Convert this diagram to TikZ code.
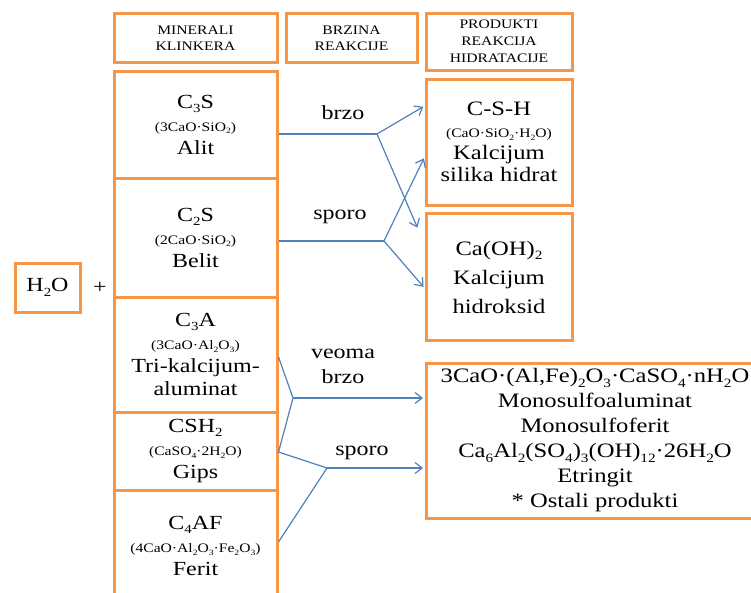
\documentclass[tikz,border=0pt]{standalone}
\usepackage{fontspec}
\usepackage{graphicx}
\setmainfont[FakeStretch=1.2]{Liberation Serif}
\usetikzlibrary{arrows.meta,calc}
\definecolor{boxor}{HTML}{F79646}
\definecolor{arrbl}{HTML}{4F81BD}
\newcommand\sm[1]{{\fontsize{13}{13}\selectfont #1}}
\newcommand\sub[1]{\raisebox{-0.22em}{\scalebox{0.62}{#1}}}
\begin{document}
\begin{tikzpicture}[x=1pt,y=-1pt,
  box/.style={draw=boxor,line width=3pt,inner sep=0pt,align=center,font=\fontsize{20}{23}\selectfont},
  hdr/.style={box,font=\fontsize{13}{16}\selectfont},
  conn/.style={draw=arrbl,line width=1.2pt},
  arr/.style={conn,-{Straight Barb[length=7pt,width=11pt]},shorten >=1.5pt},
  lbl/.style={font=\fontsize{20}{25}\selectfont,align=center,inner sep=0pt}]
\path[use as bounding box] (0,0) rectangle (751,592);
\clip (0,0) rectangle (751,592);
% headers
\node[hdr,minimum width=163pt,minimum height=49pt] (hmin) at (195.5,38) {MINERALI\\KLINKERA};
\node[hdr,minimum width=131pt,minimum height=49pt] (hbrz) at (351.5,38) {BRZINA\\REAKCIJE};
\node[hdr,minimum width=146pt,minimum height=57pt,font=\fontsize{13}{17}\selectfont] (hprod) at (499,41.5) {PRODUKTI\\REAKCIJA\\HIDRATACIJE};
% minerals
\node[box,minimum width=163pt,minimum height=107pt] (c3s) at (195.5,124.5) {C\sub{3}S\\\sm{(3CaO·SiO\sub{2})}\\Alit};
\node[box,minimum width=163pt,minimum height=119pt] (c2s) at (195.5,237.5) {C\sub{2}S\\\sm{(2CaO·SiO\sub{2})}\\Belit};
\node[box,minimum width=163pt,minimum height=115pt] (c3a) at (195.5,354.5) {C\sub{3}A\\\sm{(3CaO·Al\sub{2}O\sub{3})}\\Tri-kalcijum-\\aluminat};
\node[box,minimum width=163pt,minimum height=78pt] (csh2) at (195.5,451) {CSH\sub{2}\\\sm{(CaSO\sub{4}·2H\sub{2}O)}\\Gips};
\node[box,minimum width=163pt,minimum height=112pt] (c4af) at (195.5,546) {C\sub{4}AF\\\sm{(4CaO·Al\sub{2}O\sub{3}·Fe\sub{2}O\sub{3})}\\Ferit};
% water
\node[box,minimum width=65pt,minimum height=49pt] (h2o) at (47.5,287.5) {H\sub{2}O};
\node[lbl] (plus) at (100,288) {+};
% products
\node[box,minimum width=146pt,minimum height=126pt,font=\fontsize{20.5}{22}\selectfont] (csh) at (499,142) {C-S-H\\\sm{(CaO·SiO\sub{2}·H\sub{2}O)}\\Kalcijum\\silika hidrat};
\node[box,minimum width=146pt,minimum height=127pt,font=\fontsize{20.5}{29}\selectfont] (caoh) at (499,277) {Ca(OH)\sub{2}\\Kalcijum\\hidroksid};
\node[box,minimum width=338pt,minimum height=155pt,font=\fontsize{20.5}{25}\selectfont] (big) at (595,440.5) {3CaO·(Al,Fe)\sub{2}O\sub{3}·CaSO\sub{4}·nH\sub{2}O\\Monosulfoaluminat\\Monosulfoferit\\Ca\sub{6}Al\sub{2}(SO\sub{4})\sub{3}(OH)\sub{12}·26H\sub{2}O\\Etringit\\* Ostali produkti};
% labels
\node[lbl] (lbrzo) at (343,113) {brzo};
\node[lbl] (lsporoa) at (340,217) {sporo};
\node[lbl] (lveoma) at (343,366) {veoma\\brzo};
\node[lbl] (lsporob) at (362,453) {sporo};
% connectors
\coordinate (j1) at (377,134);
\coordinate (j2) at (384,241);
\coordinate (j3) at (293,398);
\coordinate (j4) at (327,468);
\coordinate (x1) at (418,229);
\draw[conn] (c3s.east |- j1) -- (j1);
\draw[arr] (j1) -- (csh.west |- 0,106);
\draw[arr] (j1) -- (x1);
\draw[conn] (c2s.east |- j2) -- (j2);
\draw[arr] (j2) -- (csh.west |- 0,157);
\draw[arr] (j2) -- (caoh.west |- 0,288);
\draw[conn] (c3a.east |- 0,357) -- (j3) -- (csh2.east |- 0,452) -- (j4) -- (c4af.east |- 0,542);
\draw[arr] (j3) -- (big.west |- j3);
\draw[arr] (j4) -- (big.west |- j4);
\end{tikzpicture}
\end{document}
